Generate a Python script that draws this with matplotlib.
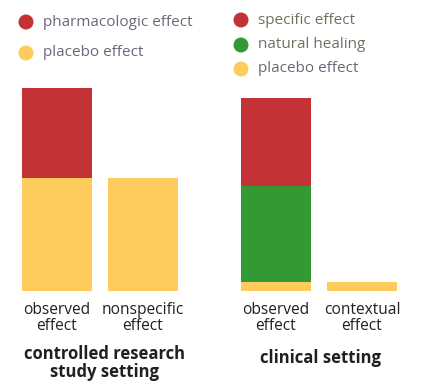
import matplotlib.pyplot as plt
from matplotlib.patches import Ellipse

# bar heights (arbitrary units)
left_cats = ['observed\neffect', 'nonspecific\neffect']
left_placebo = [113, 113]
left_pharma = [90, 0]

right_cats = ['observed\neffect', 'contextual\neffect']
right_placebo = [9, 9]
right_natural = [96, 0]
right_specific = [88, 0]

RED = '#c33234'
YEL = '#fecc5c'
GRN = '#339935'
DARK = '#231f20'

plt.rcParams['font.family'] = ['Open Sans', 'DejaVu Sans']

W, H = 424, 388
fig = plt.figure(figsize=(W / 100, H / 100), dpi=100)

ymax = 203
bw = 70 / 86


def px_axes(x0, x1, y_top, y_bot):
    return fig.add_axes([x0 / W, 1 - y_bot / H, (x1 - x0) / W, (y_bot - y_top) / H])


axl = px_axes(22, 178, 88, 291)
axr = px_axes(241, 397, 88, 291)

pos = [0, 1]
axl.bar(pos, left_placebo, width=bw, color=YEL)
axl.bar(pos, left_pharma, width=bw, bottom=left_placebo, color=RED)

axr.bar(pos, right_placebo, width=bw, color=YEL)
axr.bar(pos, right_natural, width=bw, bottom=right_placebo, color=GRN)
bot = [a + b for a, b in zip(right_placebo, right_natural)]
axr.bar(pos, right_specific, width=bw, bottom=bot, color=RED)

for ax, cats in ((axl, left_cats), (axr, right_cats)):
    ax.set_xlim(-bw / 2, 1 + bw / 2)
    ax.set_ylim(0, ymax)
    for s in ax.spines.values():
        s.set_visible(False)
    ax.set_yticks([])
    ax.set_xticks(pos)
    ax.set_xticklabels(cats, fontsize=11.2, color=DARK, linespacing=1.0)
    ax.tick_params(axis='x', length=0, pad=8)

fig.text(104 / W, 1 - 363 / H, 'controlled research\nstudy setting', ha='center', va='center',
         fontsize=12, fontweight='bold', color=DARK, linespacing=1.05)
fig.text(320 / W, 1 - 358 / H, 'clinical setting', ha='center', va='center',
         fontsize=12, fontweight='bold', color=DARK)

# legends
r = 7.5


def legend_item(cx, cy, color, label, tcolor):
    fig.add_artist(Ellipse((cx / W, 1 - cy / H), 2 * r / W, 2 * r / H,
                           transform=fig.transFigure, color=color, lw=0))
    fig.text((cx + 17) / W, 1 - cy / H, label, ha='left', va='center',
             fontsize=11, color=tcolor)


legend_item(26, 22, RED, 'pharmacologic effect', '#6b6777')
legend_item(26, 53, YEL, 'placebo effect', '#6b6777')
legend_item(241, 20, RED, 'specific effect', '#717163')
legend_item(241, 45, GRN, 'natural healing', '#717163')
legend_item(241, 69, YEL, 'placebo effect', '#6b6777')

fig.savefig('out.png', dpi=100)
